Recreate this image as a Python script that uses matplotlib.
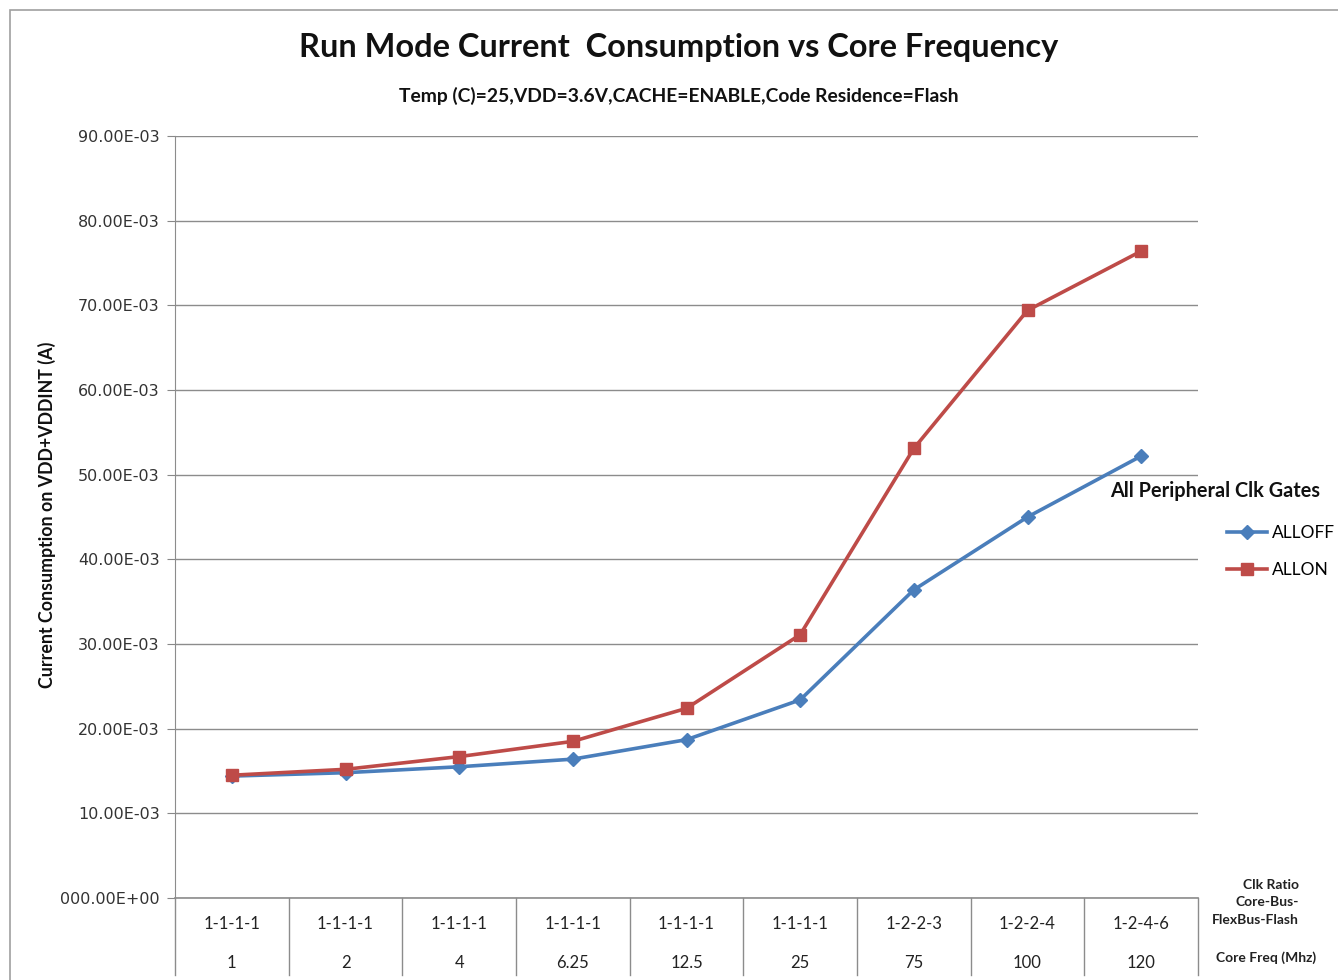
import matplotlib.pyplot as plt
import matplotlib.transforms as mtransforms
from matplotlib.patches import Rectangle

# Data
clk_ratio = ["1-1-1-1", "1-1-1-1", "1-1-1-1", "1-1-1-1", "1-1-1-1", "1-1-1-1", "1-2-2-3", "1-2-2-4", "1-2-4-6"]
core_freq = ["1", "2", "4", "6.25", "12.5", "25", "75", "100", "120"]
alloff = [14.4e-3, 14.8e-3, 15.5e-3, 16.4e-3, 18.7e-3, 23.4e-3, 36.4e-3, 45.0e-3, 52.2e-3]
allon = [14.5e-3, 15.2e-3, 16.7e-3, 18.5e-3, 22.4e-3, 31.1e-3, 53.1e-3, 69.4e-3, 76.4e-3]
y_ticks = [0, 10e-3, 20e-3, 30e-3, 40e-3, 50e-3, 60e-3, 70e-3, 80e-3, 90e-3]
y_tick_labels = ["000.00E+00", "10.00E-03", "20.00E-03", "30.00E-03", "40.00E-03",
                 "50.00E-03", "60.00E-03", "70.00E-03", "80.00E-03", "90.00E-03"]

plt.rcParams["font.family"] = ["Lato", "DejaVu Sans"]

W, H = 1338, 980
fig = plt.figure(figsize=(W / 100, H / 100), dpi=100)

# Outer chart border
fig.patches.append(Rectangle((10 / W, -0.1), 1.2, 1 - 10 / H + 0.1, transform=fig.transFigure,
                             fill=False, edgecolor="#a0a0a0", linewidth=1.2))

ax = fig.add_axes([175 / W, 1 - 898 / H, (1198 - 175) / W, (898 - 136) / H])

x = [i + 0.5 for i in range(len(core_freq))]
ax.plot(x, alloff, color="#4a7ebb", linewidth=2.6, marker="D", markersize=7, label="ALLOFF", zorder=3)
ax.plot(x, allon, color="#be4b48", linewidth=2.6, marker="s", markersize=9, label="ALLON", zorder=3)

ax.set_xlim(0, len(core_freq))
ax.set_ylim(0, 90e-3)
ax.set_yticks(y_ticks)
ax.set_yticklabels(y_tick_labels, fontsize=11.5, color="#333333", family="DejaVu Sans")
ax.tick_params(axis="y", length=6, color="#888888", pad=5)
ax.set_xticks([])
ax.grid(axis="y", color="#8c8c8c", linewidth=1)
for s in ["top", "right", "bottom"]:
    ax.spines[s].set_visible(False)
ax.spines["left"].set_color("#8c8c8c")
ax.axhline(0, color="#8c8c8c", linewidth=1.2, clip_on=False)

# Category table below the axis
trans = mtransforms.blended_transform_factory(ax.transData, ax.transAxes)
for i in range(len(core_freq) + 1):
    ax.plot([i, i], [0, -0.101], transform=trans, color="#8c8c8c", linewidth=1, clip_on=False)
for i in range(len(core_freq)):
    ax.text(i + 0.5, -0.034, clk_ratio[i], transform=trans, ha="center", va="center", fontsize=12, color="#222222")
    ax.text(i + 0.5, -0.085, core_freq[i], transform=trans, ha="center", va="center", fontsize=12, color="#222222")

fig.text(1299 / W, 1 - 902 / H, "Clk Ratio\nCore-Bus-\nFlexBus-Flash", ha="right", va="center",
         fontsize=10, fontweight="bold", color="#222222", linespacing=1.55, multialignment="right")
fig.text(1266 / W, 1 - 958 / H, "Core Freq (Mhz)", ha="center", va="center",
         fontsize=10, fontweight="bold", color="#222222")

# Titles
fig.text(679 / W, 1 - 48 / H, "Run Mode Current  Consumption vs Core Frequency", ha="center", va="center",
         fontsize=23.4, fontweight="bold", color="#111111")
fig.text(679 / W, 1 - 96 / H, "Temp (C)=25,VDD=3.6V,CACHE=ENABLE,Code Residence=Flash", ha="center", va="center",
         fontsize=13.9, fontweight="bold", color="#111111")
fig.text(47 / W, 1 - 515 / H, "Current Consumption on VDD+VDDINT (A)", rotation=90, ha="center", va="center",
         fontsize=12.8, fontweight="bold", color="#111111")

# Legend
fig.text(1215 / W, 1 - 491 / H, "All Peripheral Clk Gates", ha="center", va="center",
         fontsize=14.3, fontweight="bold", color="#111111")
ax.legend(loc="upper left", bbox_to_anchor=(1227 / W, 1 - 525 / H), bbox_transform=fig.transFigure,
          frameon=False, fontsize=12.5, handlelength=2.3, handletextpad=0.3, labelspacing=1.2,
          borderaxespad=0, borderpad=0)

fig.savefig("out.png", dpi=100)
